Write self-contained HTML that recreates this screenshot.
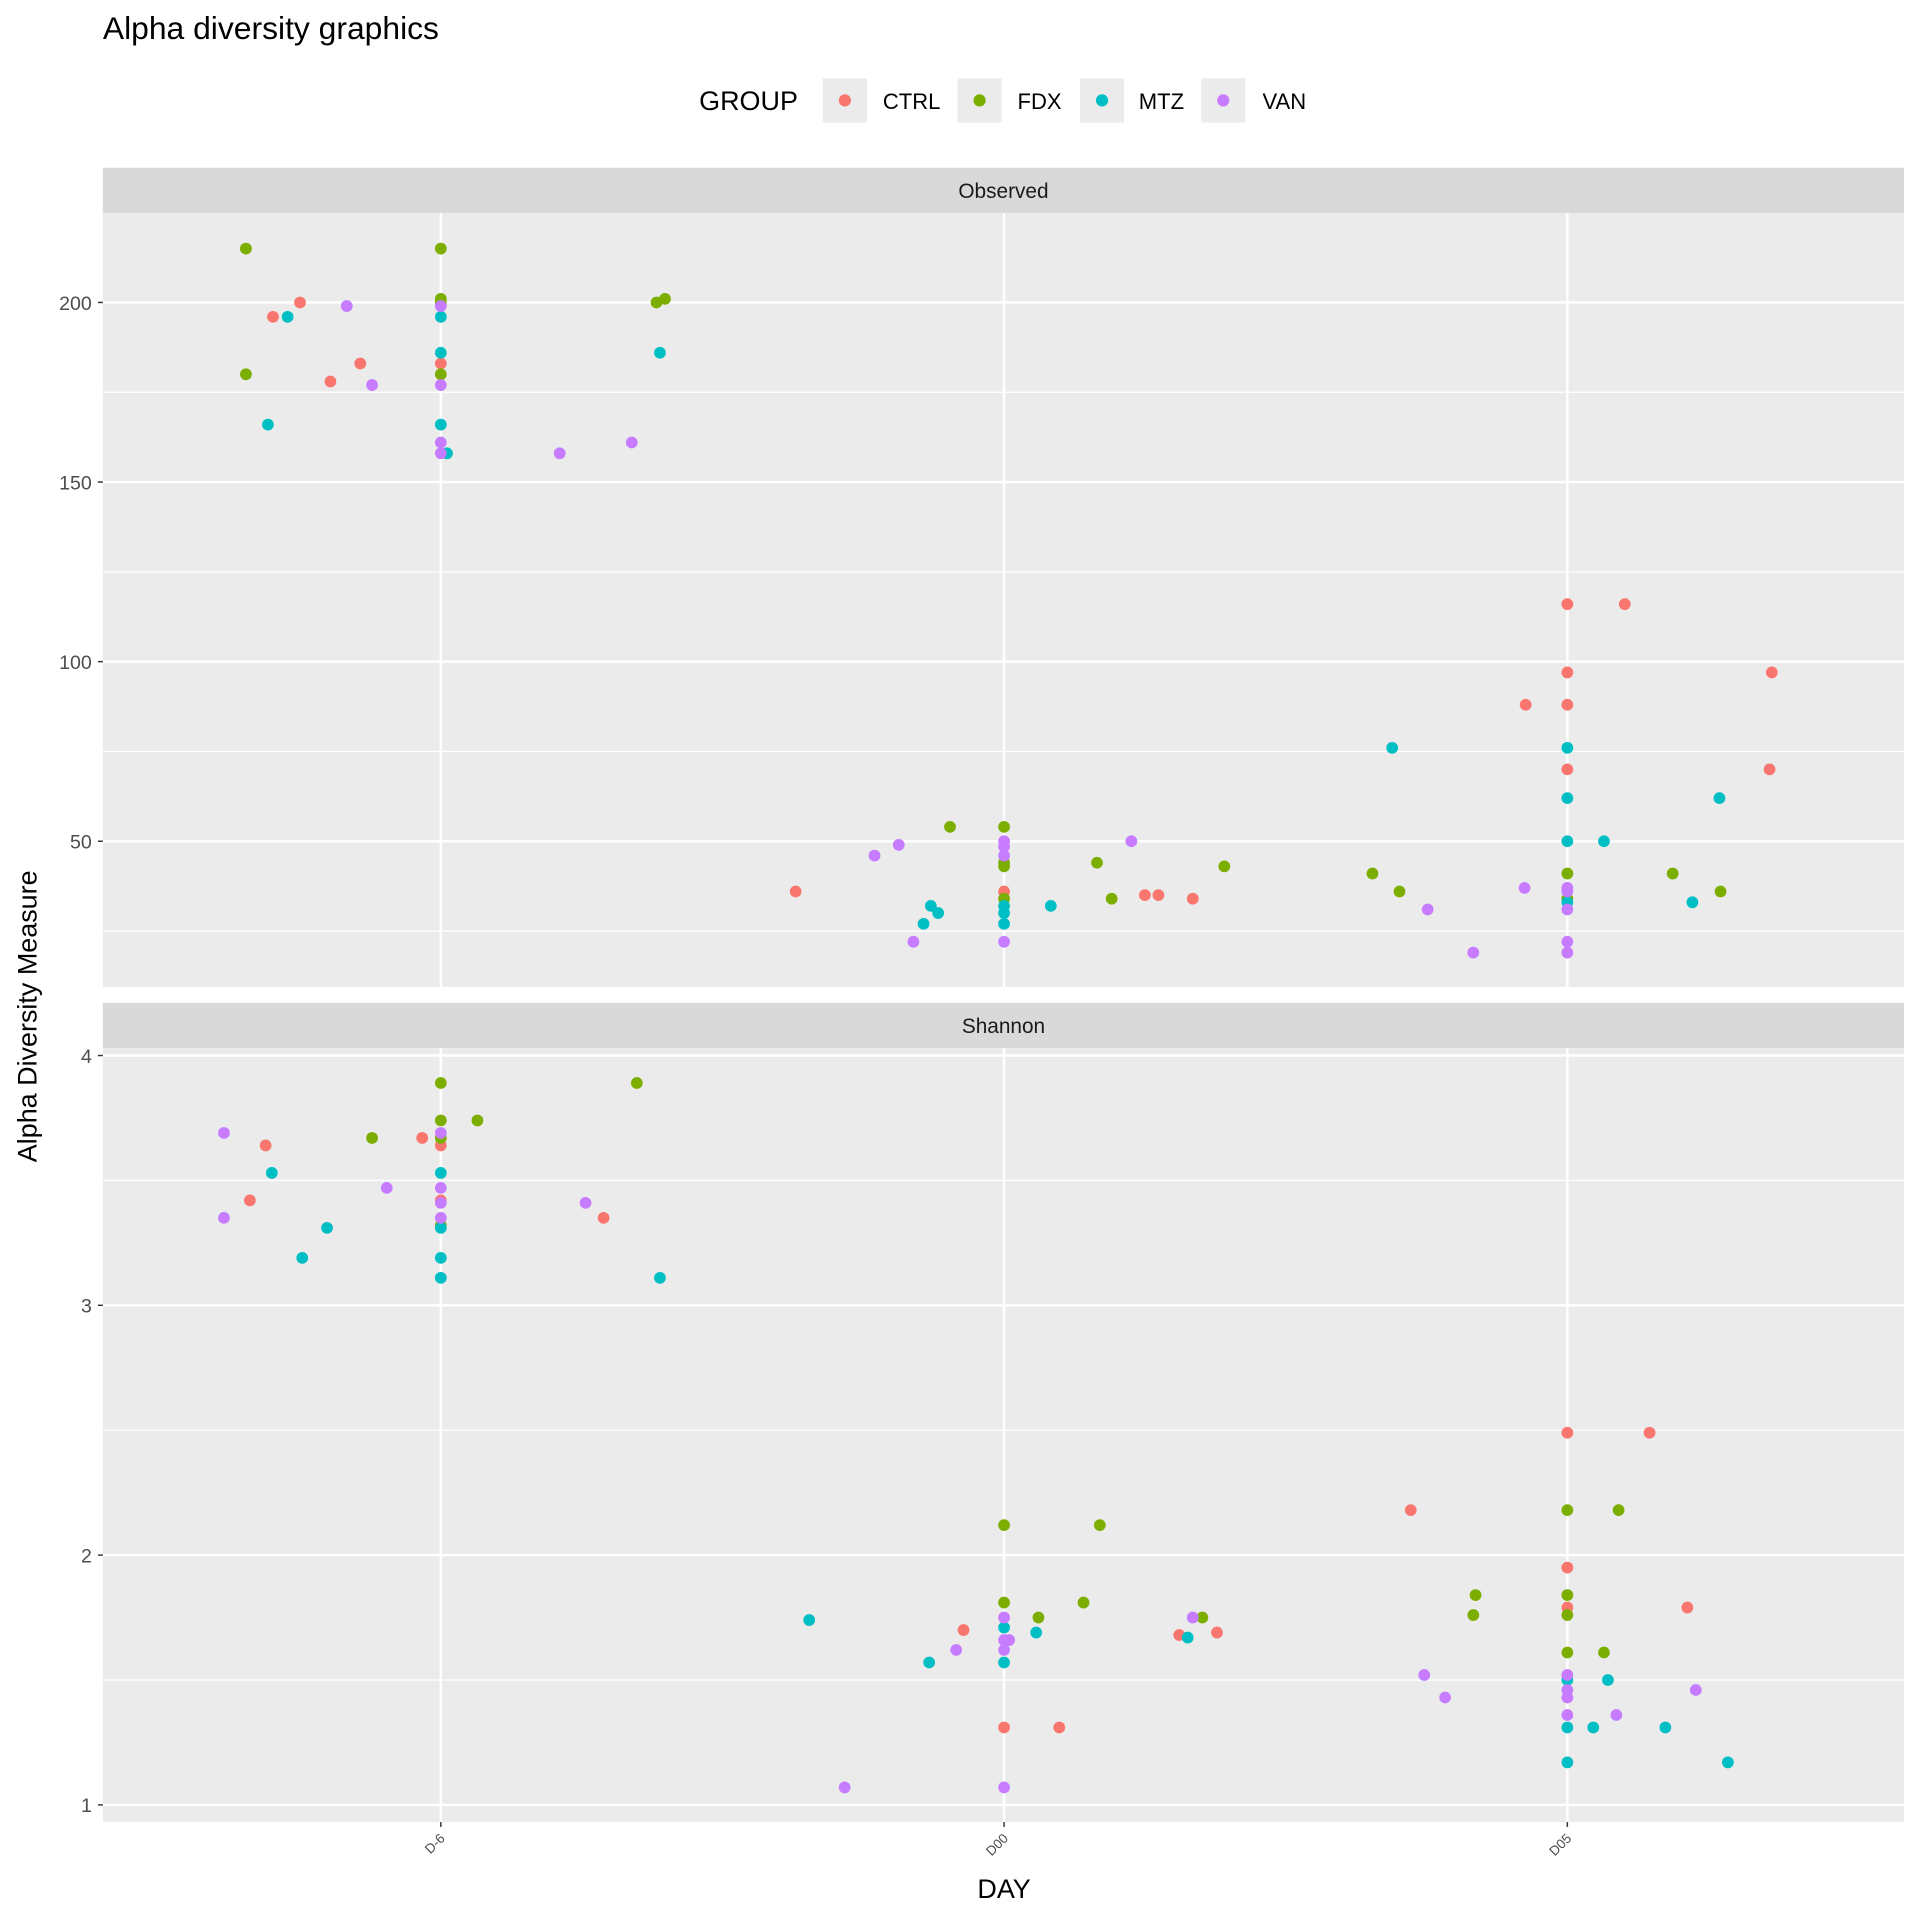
<!DOCTYPE html>
<html><head><meta charset="utf-8"><style>
html,body{margin:0;padding:0;background:#fff}
svg{display:block;font-family:"Liberation Sans",Arial,sans-serif}
</style></head><body>
<svg id="chart" width="1920" height="1920" viewBox="0 0 1568 1568" xmlns="http://www.w3.org/2000/svg">
<text x="84" y="32" font-size="26" fill="#000">Alpha diversity graphics</text>
<g>
<text x="571" y="90" font-size="22" fill="#000">GROUP</text>
<g><rect x="672" y="64" width="36" height="36" fill="#ebebeb"/><circle cx="690" cy="82" r="5" fill="#F8766D"/><text x="721" y="89" font-size="18">CTRL</text></g>
<g><rect x="782" y="64" width="36" height="36" fill="#ebebeb"/><circle cx="800" cy="82" r="5" fill="#7CAE00"/><text x="831" y="89" font-size="18">FDX</text></g>
<g><rect x="882" y="64" width="36" height="36" fill="#ebebeb"/><circle cx="900" cy="82" r="5" fill="#00BFC4"/><text x="930" y="89" font-size="18">MTZ</text></g>
<g><rect x="981" y="64" width="36" height="36" fill="#ebebeb"/><circle cx="999" cy="82" r="5" fill="#C77CFF"/><text x="1031" y="89" font-size="18">VAN</text></g>
</g>
<g id="panels"></g>
<text x="820" y="1550" font-size="22" text-anchor="middle">DAY</text>
<text x="0" y="0" font-size="22" text-anchor="middle" transform="translate(30,830) rotate(-90)">Alpha Diversity Measure</text>
</svg>
<script>
const days = ["D-6","D00","D05"];
const groups = ["CTRL","FDX","MTZ","VAN"];
const colors = {CTRL:"#F8766D",FDX:"#7CAE00",MTZ:"#00BFC4",VAN:"#C77CFF"};
const obsTicks = [50,100,150,200];
const shanTicks = [1,2,3,4];
// Observed panel: x = day index + jitter, y = value
const obsCtrlX = [-0.298,-0.25,-0.196,-0.143,0,0.63,1,1.25,1.274,1.335,1.926,2,2,2,2,2.102,2.363,2.359];
const obsCtrlY = [196,200,178,183,183,36,36,35,35,34,88,116,97,88,70,116,97,70];
const obsFdxX = [-0.346,-0.346,0,0,0,0,0.383,0.398,0.904,1,1,1,1,1.165,1.191,1.391,1.654,1.702,2,2,2.187,2.272];
const obsFdxY = [215,180,215,201,200,180,200,201,54,54,44,43,34,44,34,43,41,36,41,34,41,36];
const obsMtzX = [-0.307,-0.272,0,0,0,0.011,0.389,0.857,0.87,0.883,1,1,1,1.083,1.689,2,2,2,2,2.065,2.222,2.27];
const obsMtzY = [166,196,196,186,166,158,186,27,32,30,32,30,27,32,76,76,62,50,33,50,33,62];
const obsVanX = [-0.167,-0.122,0,0,0,0,0.211,0.339,0.77,0.813,0.839,1,1,1,1,1.226,1.752,1.833,1.924,2,2,2,2,2];
const obsVanY = [199,177,199,177,161,158,158,161,46,49,22,50,48.5,46,22,50,31,19,37,37,36,31,22,19];
// Shannon panel
const shCtrlX = [-0.339,-0.311,-0.033,0,0,0.289,0.928,1,1.098,1.311,1.378,1.722,2,2,2,2.146,2.213];
const shCtrlY = [3.42,3.64,3.67,3.64,3.42,3.35,1.70,1.31,1.31,1.68,1.69,2.18,2.49,1.95,1.79,2.49,1.79];
const shFdxX = [-0.122,0,0,0,0,0.065,0.348,1,1,1.061,1.141,1.17,1.352,1.833,1.837,2,2,2,2,2.065,2.091];
const shFdxY = [3.67,3.89,3.74,3.67,3.32,3.74,3.89,2.12,1.81,1.75,1.81,2.12,1.75,1.76,1.84,2.18,1.84,1.76,1.61,1.61,2.18];
const shMtzX = [-0.3,-0.246,-0.202,0,0,0,0,0.389,0.654,0.867,1,1,1.057,1.326,2,2,2,2.046,2.072,2.174,2.285];
const shMtzY = [3.53,3.19,3.31,3.53,3.31,3.19,3.11,3.11,1.74,1.57,1.71,1.57,1.69,1.67,1.50,1.31,1.17,1.31,1.50,1.31,1.17];
const shVanX = [-0.385,-0.385,-0.096,0,0,0,0,0.257,0.717,0.915,1,1,1,1,1.009,1.335,1.746,1.783,2,2,2,2,2.087,2.228];
const shVanY = [3.69,3.35,3.47,3.69,3.47,3.41,3.35,3.41,1.07,1.62,1.75,1.66,1.62,1.07,1.66,1.75,1.52,1.43,1.52,1.46,1.43,1.36,1.36,1.46];

const NS="http://www.w3.org/2000/svg";
const root=document.getElementById("panels");
function mk(tag,attrs,parent){const e=document.createElementNS(NS,tag);for(const k in attrs)e.setAttribute(k,attrs[k]);parent.appendChild(e);return e;}
const L=84,R=1555;
function xScale(d){return 360+d*460;}

function panel(name,stripTop,top,bottom,vmin,vmax,ymin,ymax,ticks,series){
  const yScale=v=>ymax+(v-vmax)*(ymin-ymax)/(vmin-vmax);
  const g=mk("g",{},root);
  
  
  const s=mk("rect",{x:L,y:stripTop,width:R-L,height:top-stripTop,fill:"#d9d9d9"},g);
  
  
  const st=mk("text",{x:(L+R)/2,y:(stripTop+top)/2+6,"font-size":"17","text-anchor":"middle",fill:"#1a1a1a"},g);
  st.textContent=name==="observed"?"Observed":"Shannon";
  
  
  mk("rect",{x:L,y:top,width:R-L,height:bottom-top,fill:"#ebebeb"},g);
  const step=ticks[1]-ticks[0];
  for(let i=0;i<ticks.length;i++){
    const m=ticks[i]-step/2;const ym=yScale(m);
    if(ym>top&&ym<bottom) mk("line",{x1:L,x2:R,y1:ym,y2:ym,stroke:"#fff","stroke-width":"1"},g);
  }
  for(let i=0;i<days.length;i++){
    mk("line",{x1:xScale(i),x2:xScale(i),y1:top,y2:bottom,stroke:"#fff","stroke-width":"2"},g);
  }
  for(let i=0;i<ticks.length;i++){
    const y=yScale(ticks[i]);
    mk("line",{x1:L,x2:R,y1:y,y2:y,stroke:"#fff","stroke-width":"2"},g);
    mk("line",{x1:L-4,x2:L,y1:y,y2:y,stroke:"#333","stroke-width":"1.2"},g);
    const t=mk("text",{x:L-9,y:y+6,"font-size":"16","text-anchor":"end",fill:"#4d4d4d"},g);
    t.textContent=ticks[i];
    
    
  }
  series.forEach(([grp,xs,ys])=>{
    for(let i=0;i<xs.length;i++){
      const c=mk("circle",{cx:xScale(xs[i]),cy:yScale(ys[i]),r:"4.8",fill:colors[grp]},g);
      
      
    }
  });
}
panel("observed",137,174,806,50,200,687,247,obsTicks,[["CTRL",obsCtrlX,obsCtrlY],["FDX",obsFdxX,obsFdxY],["MTZ",obsMtzX,obsMtzY],["VAN",obsVanX,obsVanY]]);
panel("shannon",819,856,1488,1,4,1474,862,shanTicks,[["CTRL",shCtrlX,shCtrlY],["FDX",shFdxX,shFdxY],["MTZ",shMtzX,shMtzY],["VAN",shVanX,shVanY]]);
const xg=mk("g",{},root);


for(let i=0;i<days.length;i++){
  const x=xScale(i);
  mk("line",{x1:x,x2:x,y1:1488,y2:1492,stroke:"#333","stroke-width":"1.2"},xg);
  const t=mk("text",{x:0,y:0,"font-size":"11","text-anchor":"end",fill:"#4d4d4d",transform:`translate(${x+4},${1502}) rotate(-45)`},xg);
  t.textContent=days[i];
  
  
}
</script>
</body></html>
